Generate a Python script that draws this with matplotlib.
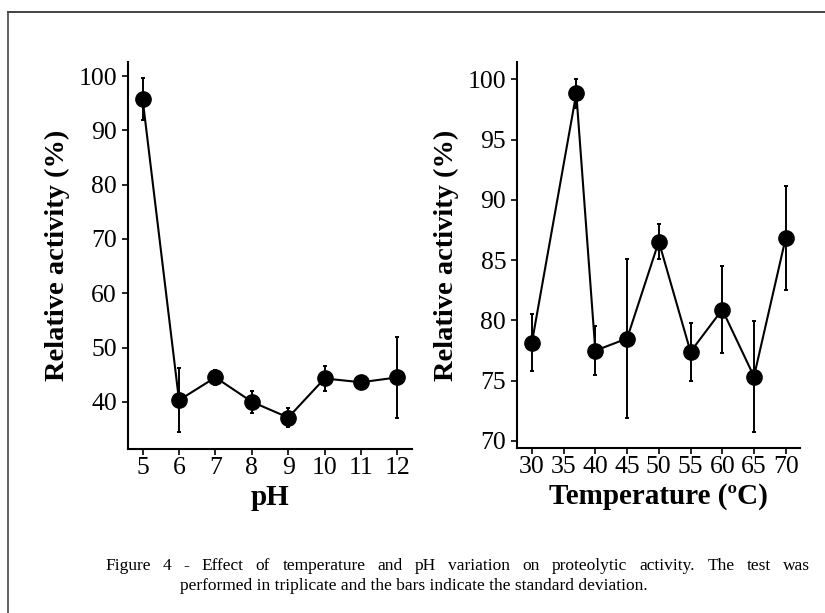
import matplotlib
matplotlib.use('Agg')
import matplotlib.pyplot as plt
from matplotlib.lines import Line2D

# pH series
ph = [5, 6, 7, 8, 9, 10, 11, 12]
ph_activity = [95.8, 40.3, 44.5, 40.0, 37.1, 44.3, 43.6, 44.5]
ph_sd = [3.8, 5.9, 1.4, 2.0, 1.7, 2.3, 0.6, 7.5]

# temperature series
temp = [30, 37, 40, 45, 50, 55, 60, 65, 70]
temp_activity = [78.15, 98.85, 77.5, 78.5, 86.55, 77.4, 80.9, 75.35, 86.85]
temp_sd = [2.35, 1.2, 2.0, 6.6, 1.45, 2.4, 3.6, 4.6, 4.3]

ph_ticks = [5, 6, 7, 8, 9, 10, 11, 12]
ph_yticks = [40, 50, 60, 70, 80, 90, 100]
temp_ticks = [30, 35, 40, 45, 50, 55, 60, 65, 70]
temp_yticks = [70, 75, 80, 85, 90, 95, 100]

caption1 = "Figure 4 - Effect of temperature and pH variation on proteolytic activity. The test was"
caption2 = "performed in triplicate and the bars indicate the standard deviation."

plt.rcParams['font.family'] = ['Liberation Serif', 'DejaVu Serif']

W, H = 825, 613
fig = plt.figure(figsize=(8.25, 6.13), dpi=100)
ax1 = fig.add_axes([0.1552, 0.2675, 0.3442, 0.6313])
ax2 = fig.add_axes([0.627, 0.2692, 0.3427, 0.630])


def style(ax, x, y, sd, xticks, yticks, xlim, ylim, xlabel):
    ax.errorbar(x, y, yerr=sd, color='black', lw=1.5, marker='o', ms=11,
                capsize=1.5, elinewidth=1.4, capthick=1.4)
    ax.set_xlim(*xlim)
    ax.set_ylim(*ylim)
    ax.set_xticks(xticks)
    ax.set_yticks(yticks)
    for s in ['top', 'right']:
        ax.spines[s].set_visible(False)
    for s in ['left', 'bottom']:
        ax.spines[s].set_linewidth(1.5)
    ax.tick_params(width=1.2, length=4, labelsize=18.5, colors='black')
    ax.tick_params(axis='x', pad=1.5)
    ax.tick_params(axis='y', pad=4)
    ax.set_xlabel(xlabel, fontsize=21, fontweight='bold', labelpad=4)
    ax.set_ylabel('Relative activity (%)', fontsize=20.5, fontweight='bold', labelpad=6)


style(ax1, ph, ph_activity, ph_sd, ph_ticks, ph_yticks, (4.6, 12.4), (31.3, 102.6), 'pH')
style(ax2, temp, temp_activity, temp_sd, temp_ticks, temp_yticks, (27.7, 72.25), (69.42, 101.46),
      'Temperature (ºC)')

# caption: first line justified between x=105 and x=810, second line centred
cap_fs = 12.5
renderer = fig.canvas.get_renderer()
words = caption1.split(' ')
widths = []
for w in words:
    t = fig.text(0, 0, w, fontsize=cap_fs)
    widths.append(t.get_window_extent(renderer).width)
    t.remove()
x0, x1 = 105, 810
gap = (x1 - x0 - sum(widths)) / (len(words) - 1)
xpos = x0
for w, wd in zip(words, widths):
    fig.text(xpos / W, 1 - 570 / H, w, fontsize=cap_fs, va='baseline', ha='left')
    xpos += wd + gap
fig.text(413.5 / W, 1 - 590 / H, caption2, ha='center', va='baseline', fontsize=cap_fs)

# outer frame (top and left edges)
fig.add_artist(Line2D([0.0103, 1.0], [0.981, 0.981], transform=fig.transFigure, color='#222222', lw=1.2))
fig.add_artist(Line2D([0.0103, 0.0103], [0.0, 0.981], transform=fig.transFigure, color='#444444', lw=1.2))

fig.savefig('out.png', dpi=100)
